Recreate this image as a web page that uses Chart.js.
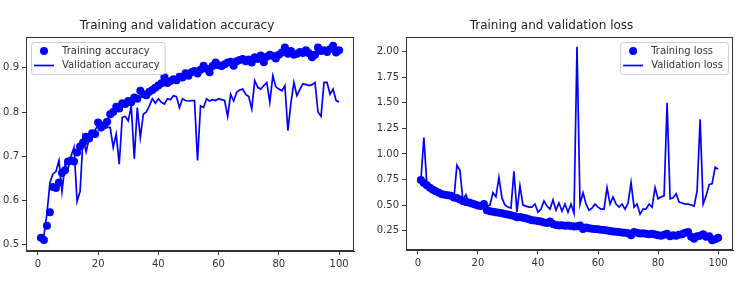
<!DOCTYPE html>
<html>
<head>
<meta charset="utf-8">
<script src="https://cdn.jsdelivr.net/npm/chart.js@4.4.1/dist/chart.umd.min.js"></script>
<style>
  html, body { margin: 0; padding: 0; background: #fff; }
  #wrap { position: relative; width: 740px; height: 281px; overflow: hidden; }
  .box { position: absolute; top: 0; width: 370px; height: 281px; }
  #leftBox { left: 0; }
  #rightBox { left: 370px; }
</style>
</head>
<body>
<div id="wrap">
  <div class="box" id="leftBox"><canvas id="accChart"></canvas></div>
  <div class="box" id="rightBox"><canvas id="lossChart"></canvas></div>
</div>
<script>
// values, epochs 1..100
const trainAcc = [
  0.515, 0.510, 0.542, 0.573, 0.630, 0.628, 0.640, 0.662, 0.668, 0.688,
  0.690, 0.688, 0.708, 0.722, 0.731, 0.744, 0.740, 0.752, 0.750, 0.776,
  0.765, 0.770, 0.778, 0.795, 0.800, 0.812, 0.808, 0.820, 0.818, 0.825,
  0.822, 0.833, 0.830, 0.848, 0.840, 0.838, 0.846, 0.850, 0.855, 0.860,
  0.865, 0.879, 0.866, 0.870, 0.874, 0.872, 0.880, 0.878, 0.888, 0.882,
  0.890, 0.893, 0.887, 0.896, 0.905, 0.898, 0.890, 0.904, 0.912, 0.906,
  0.904, 0.908, 0.912, 0.914, 0.905, 0.915, 0.918, 0.920, 0.915, 0.919,
  0.912, 0.924, 0.920, 0.928, 0.913, 0.925, 0.930, 0.927, 0.921, 0.930,
  0.935, 0.946, 0.932, 0.938, 0.930, 0.932, 0.936, 0.934, 0.940, 0.933,
  0.924, 0.930, 0.946, 0.938, 0.940, 0.936, 0.942, 0.950, 0.935, 0.940
];
const valAcc = [
  0.515, 0.520, 0.570, 0.640, 0.660, 0.665, 0.690, 0.620, 0.680, 0.670,
  0.700, 0.720, 0.597, 0.620, 0.742, 0.710, 0.740, 0.745, 0.760, 0.770,
  0.760, 0.780, 0.765, 0.765, 0.720, 0.750, 0.682, 0.788, 0.790, 0.780,
  0.814, 0.694, 0.810, 0.742, 0.795, 0.800, 0.814, 0.830, 0.820, 0.830,
  0.822, 0.818, 0.830, 0.828, 0.837, 0.835, 0.810, 0.830, 0.826, 0.825,
  0.826, 0.826, 0.690, 0.814, 0.810, 0.830, 0.825, 0.828, 0.826, 0.830,
  0.828, 0.826, 0.790, 0.840, 0.825, 0.845, 0.850, 0.852, 0.840, 0.835,
  0.807, 0.871, 0.856, 0.852, 0.860, 0.867, 0.822, 0.882, 0.857, 0.852,
  0.848, 0.860, 0.758, 0.820, 0.867, 0.837, 0.852, 0.864, 0.862, 0.860,
  0.862, 0.867, 0.800, 0.790, 0.867, 0.867, 0.840, 0.852, 0.826, 0.823
];
const trainLoss = [
  0.745, 0.715, 0.695, 0.670, 0.650, 0.635, 0.620, 0.605, 0.600, 0.595,
  0.590, 0.575, 0.570, 0.555, 0.540, 0.530, 0.525, 0.515, 0.505, 0.495,
  0.490, 0.510, 0.450, 0.440, 0.435, 0.430, 0.425, 0.420, 0.412, 0.408,
  0.400, 0.392, 0.380, 0.382, 0.375, 0.370, 0.360, 0.350, 0.348, 0.345,
  0.340, 0.330, 0.325, 0.340, 0.315, 0.305, 0.300, 0.302, 0.298, 0.300,
  0.295, 0.290, 0.292, 0.300, 0.265, 0.280, 0.272, 0.268, 0.265, 0.262,
  0.258, 0.256, 0.250, 0.245, 0.240, 0.238, 0.235, 0.232, 0.228, 0.225,
  0.205, 0.235, 0.228, 0.222, 0.225, 0.218, 0.215, 0.220, 0.212, 0.205,
  0.200, 0.210, 0.218, 0.195, 0.205, 0.200, 0.210, 0.215, 0.230, 0.235,
  0.190, 0.170, 0.195, 0.200, 0.215, 0.190, 0.195, 0.155, 0.165, 0.180
];
const valLoss = [
  0.74, 1.16, 0.70, 0.66, 0.64, 0.62, 0.61, 0.60, 0.60, 0.59,
  0.58, 0.56, 0.89, 0.84, 0.55, 0.60, 0.52, 0.54, 0.50, 0.49,
  0.50, 0.52, 0.49, 0.50, 0.62, 0.58, 0.77, 0.57, 0.50, 0.48,
  0.47, 0.83, 0.43, 0.69, 0.50, 0.49, 0.48, 0.48, 0.51, 0.43,
  0.46, 0.54, 0.49, 0.46, 0.55, 0.45, 0.52, 0.44, 0.51, 0.43,
  0.51, 0.42, 2.05, 0.51, 0.62, 0.51, 0.45, 0.47, 0.51, 0.48,
  0.46, 0.46, 0.67, 0.51, 0.58, 0.51, 0.48, 0.51, 0.46, 0.52,
  0.72, 0.48, 0.51, 0.41, 0.46, 0.46, 0.51, 0.48, 0.67, 0.56,
  0.58, 0.59, 1.50, 0.56, 0.57, 0.61, 0.53, 0.52, 0.51, 0.51,
  0.50, 0.49, 0.64, 1.34, 0.51, 0.59, 0.70, 0.71, 0.87, 0.85
];
const epochs = trainAcc.map((_, i) => i + 1);

const xTicks = [0, 20, 40, 60, 80, 100];
const accTicks = [0.5, 0.6, 0.7, 0.8, 0.9];
const lossTicks = [0.25, 0.5, 0.75, 1.0, 1.25, 1.5, 1.75, 2.0];

const BLUE = '#0000ff';
const INK = '#333';

Chart.defaults.font.family = '"DejaVu Sans", sans-serif';
Chart.defaults.font.size = 10;
Chart.defaults.color = INK;

const pts = (ys) => ys.map((y, i) => ({ x: epochs[i], y: y }));

// matplotlib-like box around the axes + legend inside the plot
const axesFrame = {
  id: 'axesFrame',
  afterDraw(chart, args, opts) {
    const { ctx, chartArea: a } = chart;
    ctx.save();
    ctx.strokeStyle = INK;
    ctx.lineWidth = 1;
    ctx.strokeRect(Math.round(a.left) + 0.5, Math.round(a.top) + 0.5,
      Math.round(a.right - a.left) - 1, Math.round(a.bottom - a.top) - 1);

    ctx.font = '10px "DejaVu Sans", sans-serif';
    const sets = chart.data.datasets;
    const tw = Math.max(...sets.map(d => ctx.measureText(d.label).width));
    const w = tw + 36, h = 32;
    const x0 = opts.corner === 'right' ? a.right - 5 - w : a.left + 5;
    const y0 = a.top + 5;
    ctx.fillStyle = 'rgba(255,255,255,0.8)';
    ctx.strokeStyle = '#cccccc';
    ctx.beginPath();
    ctx.roundRect(x0 + 0.5, y0 + 0.5, w, h, 3);
    ctx.fill();
    ctx.stroke();

    sets.forEach((d, i) => {
      const cy = y0 + 9 + i * 14.5;
      if (d.showLine === false) {
        ctx.fillStyle = BLUE;
        ctx.beginPath();
        ctx.arc(x0 + 13, cy, 4, 0, Math.PI * 2);
        ctx.fill();
      } else {
        ctx.strokeStyle = BLUE;
        ctx.lineWidth = 1.7;
        ctx.beginPath();
        ctx.moveTo(x0 + 3, cy);
        ctx.lineTo(x0 + 23, cy);
        ctx.stroke();
      }
      ctx.fillStyle = INK;
      ctx.textBaseline = 'middle';
      ctx.fillText(d.label, x0 + 31, cy);
    });
    ctx.restore();
  }
};

function makeChart(id, title, trainLabel, valLabel, train, val, yTicks, yMin, yMax, yWidth, padRight, corner, xHeight) {
  return new Chart(document.getElementById(id), {
    type: 'line',
    data: {
      datasets: [{
        label: trainLabel,
        data: pts(train),
        showLine: false,
        pointRadius: 4,
        pointBackgroundColor: BLUE,
        pointBorderWidth: 0,
        order: 1
      }, {
        label: valLabel,
        data: pts(val),
        borderColor: BLUE,
        borderWidth: 1.7,
        pointRadius: 0,
        tension: 0,
        order: 0
      }]
    },
    options: {
      responsive: true,
      maintainAspectRatio: false,
      animation: false,
      layout: { padding: { left: 0, right: padRight, top: 0, bottom: 0 } },
      plugins: {
        legend: { display: false },
        tooltip: { enabled: false },
        title: {
          display: true,
          text: title,
          color: '#222',
          font: { size: 12, weight: 'normal' },
          padding: { top: 19, bottom: 3.6 }
        },
        axesFrame: { corner: corner }
      },
      scales: {
        x: {
          type: 'linear',
          min: -3.95,
          max: 104.95,
          afterBuildTicks: ax => { ax.ticks = xTicks.map(v => ({ value: v })); },
          afterFit: ax => { ax.height = xHeight; },
          grid: { drawOnChartArea: false, tickLength: 4, color: INK },
          border: { display: true, color: INK },
          ticks: { padding: 3, color: INK }
        },
        y: {
          min: yMin,
          max: yMax,
          afterBuildTicks: ax => { ax.ticks = yTicks.map(v => ({ value: v })); },
          afterFit: ax => { ax.width = yWidth; },
          grid: { drawOnChartArea: false, tickLength: 4, color: INK },
          border: { display: true, color: INK },
          ticks: {
            padding: 3,
            color: INK,
            callback: v => yTicks === lossTicks ? v.toFixed(2) : v.toFixed(1)
          }
        }
      }
    },
    plugins: [axesFrame]
  });
}

makeChart('accChart', 'Training and validation accuracy', 'Training accuracy', 'Validation accuracy',
  trainAcc, valAcc, accTicks, 0.485, 0.97, 26, 16, 'left', 30);
makeChart('lossChart', 'Training and validation loss', 'Training loss', 'Validation loss',
  trainLoss, valLoss, lossTicks, 0.06, 2.145, 36, 7, 'right', 31);
</script>
</body>
</html>
